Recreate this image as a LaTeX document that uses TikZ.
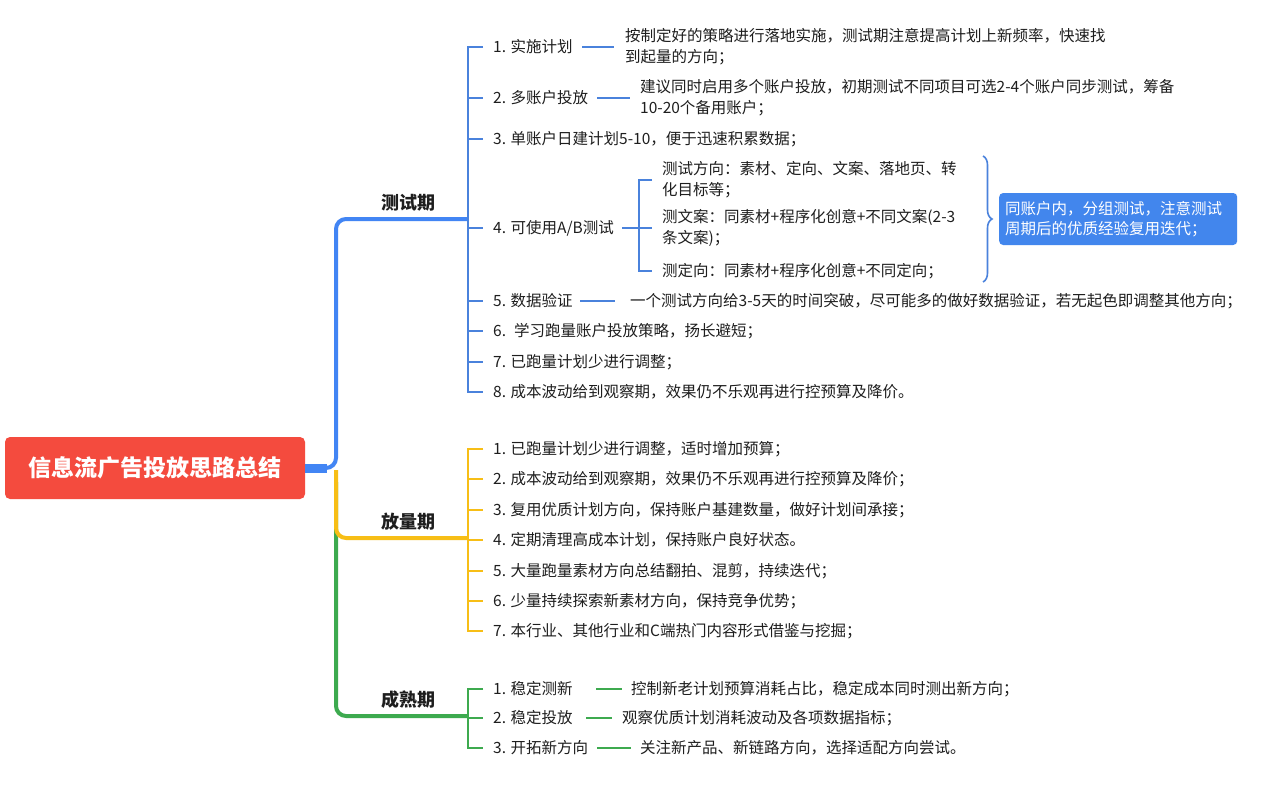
\documentclass[tikz,border=0pt]{standalone}
\usepackage{fontspec}
\setmainfont{Noto Sans CJK SC}
\usetikzlibrary{decorations.pathreplacing}
\definecolor{cblue}{RGB}{66,133,244}
\definecolor{cbl2}{RGB}{74,130,220}
\definecolor{cyel}{RGB}{247,190,22}
\definecolor{cgrn}{RGB}{61,170,79}
\definecolor{cred}{RGB}{244,75,62}
\definecolor{cbox}{RGB}{66,134,237}
\definecolor{ctxt}{RGB}{30,30,30}
\begin{document}
\begin{tikzpicture}[x=1pt,y=-1pt,
  txt/.style={anchor=west,inner sep=0pt,align=left,text=ctxt,font=\fontsize{15.5}{21}\selectfont},
  phase/.style={inner sep=0pt,text=ctxt,font=\fontsize{18}{20}\selectfont\bfseries},
  rootbox/.style={fill=cred,rounded corners=5pt,minimum width=300pt,minimum height=62pt,inner sep=0pt,text=white,font=\fontsize{23}{26}\selectfont\bfseries},
  notebox/.style={anchor=west,fill=cbox,rounded corners=4pt,text width=226pt,minimum height=52pt,inner xsep=6pt,inner ysep=0pt,align=left,text=white,font=\fontsize{15.5}{20}\selectfont},
  trunk/.style={line width=4pt,rounded corners=10pt},
  brk/.style={line width=2pt},
  conn/.style={line width=2.2pt},
]
\fill[white] (0,0) rectangle (1280,795);
\useasboundingbox (0,0) rectangle (1280,795);

% root
\node[rootbox] (root) at (155,468) {信息流广告投放思路总结};

% phase labels
\node[phase] (p1) at (408,203) {测试期};
\node[phase] (p2) at (408,522) {放量期};
\node[phase] (p3) at (408,700) {成熟期};

% bracket junctions
\coordinate (bB) at (468,219);
\coordinate (yB) at (468,538);
\coordinate (gB) at (468,716);
\coordinate (sB) at (639,228);

% trunks
\draw[trunk,cgrn] (336,482) -- (336,716) -- (gB);
\draw[trunk,cyel] (336,470) -- (336,538) -- (yB);
\draw[line width=9pt,cblue] (root.east) -- ++(22,0);
\draw[trunk,cblue] (root.east) -- (336,468) -- (336,219) -- (bB);

% ---------- test phase ----------
\node[txt] (t1) at (493,47) {1. 实施计划};
\node[txt] (d1) at (625,47) {按制定好的策略进行落地实施，测试期注意提高计划上新频率，快速找\\到起量的方向；};
\node[txt] (t2) at (493,98) {2. 多账户投放};
\node[txt] (d2) at (640,98) {建议同时启用多个账户投放，初期测试不同项目可选2-4个账户同步测试，筹备\\10-20个备用账户；};
\node[txt] (t3) at (493,139) {3. 单账户日建计划5-10，便于迅速积累数据；};
\node[txt] (t4) at (493,228) {4. 可使用A/B测试};
\node[txt] (s1) at (662,180) {测试方向：素材、定向、文案、落地页、转\\化目标等；};
\node[txt] (s2) at (662,228) {测文案：同素材+程序化创意+不同文案(2-3\\条文案)；};
\node[txt] (s3) at (662,271) {测定向：同素材+程序化创意+不同定向；};
\node[txt] (t5) at (493,301) {5. 数据验证};
\node[txt] (d5) at (630,301) {一个测试方向给3-5天的时间突破，尽可能多的做好数据验证，若无起色即调整其他方向；};
\node[txt] (t6) at (493,331) {6.~ 学习跑量账户投放策略，扬长避短；};
\node[txt] (t7) at (493,362) {7. 已跑量计划少进行调整；};
\node[txt] (t8) at (493,392) {8. 成本波动给到观察期，效果仍不乐观再进行控预算及降价。};

\draw[brk,cbl2] ([xshift=-10pt]t1.west) -- (bB |- t1.west) -- (bB |- t8.west) -- ([xshift=-10pt]t8.west);
\foreach \n in {t2,t3,t4,t5,t6,t7}
  \draw[brk,cbl2] (bB |- \n.west) -- ([xshift=-10pt]\n.west);
\draw[conn,cbl2] ([xshift=-43pt]d1.west) -- ([xshift=-11pt]d1.west);
\draw[conn,cbl2] ([xshift=-43pt]d2.west) -- ([xshift=-10pt]d2.west);
\draw[conn,cbl2] ([xshift=-50pt]d5.west) -- ([xshift=-15pt]d5.west);

% A/B sub-bracket
\draw[conn,cbl2] ([xshift=8pt]t4.east) -- (sB);
\draw[brk,cbl2] ([xshift=-10pt]s1.west) -- (sB |- s1.west) -- (sB |- s3.west) -- ([xshift=-10pt]s3.west);
\draw[brk,cbl2] (sB |- s2.west) -- ([xshift=-10pt]s2.west);

% brace and note
\coordinate (brT) at (983,156);
\coordinate (brB) at (983,282);
\draw[cbl2,line width=1.6pt,decorate,decoration={brace,amplitude=9pt}] (brT) -- (brB);
\node[notebox] (note) at (999,219) {同账户内，分组测试，注意测试\\周期后的优质经验复用迭代；};

% ---------- scale phase ----------
\node[txt] (y1) at (493,449) {1. 已跑量计划少进行调整，适时增加预算；};
\node[txt] (y2) at (493,479) {2. 成本波动给到观察期，效果仍不乐观再进行控预算及降价；};
\node[txt] (y3) at (493,510) {3. 复用优质计划方向，保持账户基建数量，做好计划间承接；};
\node[txt] (y4) at (493,540) {4. 定期清理高成本计划，保持账户良好状态。};
\node[txt] (y5) at (493,571) {5. 大量跑量素材方向总结翻拍、混剪，持续迭代；};
\node[txt] (y6) at (493,601) {6. 少量持续探索新素材方向，保持竞争优势；};
\node[txt] (y7) at (493,631) {7. 本行业、其他行业和C端热门内容形式借鉴与挖掘；};
\draw[brk,cyel] ([xshift=-10pt]y1.west) -- (yB |- y1.west) -- (yB |- y7.west) -- ([xshift=-10pt]y7.west);
\foreach \n in {y2,y3,y4,y5,y6}
  \draw[brk,cyel] (yB |- \n.west) -- ([xshift=-10pt]\n.west);

% ---------- mature phase ----------
\node[txt] (g1) at (493,689) {1. 稳定测新};
\node[txt] (e1) at (631,689) {控制新老计划预算消耗占比，稳定成本同时测出新方向；};
\node[txt] (g2) at (493,718) {2. 稳定投放};
\node[txt] (e2) at (622,718) {观察优质计划消耗波动及各项数据指标；};
\node[txt] (g3) at (493,748) {3. 开拓新方向};
\node[txt] (e3) at (640,748) {关注新产品、新链路方向，选择适配方向尝试。};
\draw[brk,cgrn] ([xshift=-10pt]g1.west) -- (gB |- g1.west) -- (gB |- g3.west) -- ([xshift=-10pt]g3.west);
\draw[brk,cgrn] (gB |- g2.west) -- ([xshift=-10pt]g2.west);
\draw[conn,cgrn] ([xshift=-35pt]e1.west) -- ([xshift=-9pt]e1.west);
\draw[conn,cgrn] ([xshift=-36pt]e2.west) -- ([xshift=-10pt]e2.west);
\draw[conn,cgrn] ([xshift=-43pt]e3.west) -- ([xshift=-9pt]e3.west);
\end{tikzpicture}
\end{document}
